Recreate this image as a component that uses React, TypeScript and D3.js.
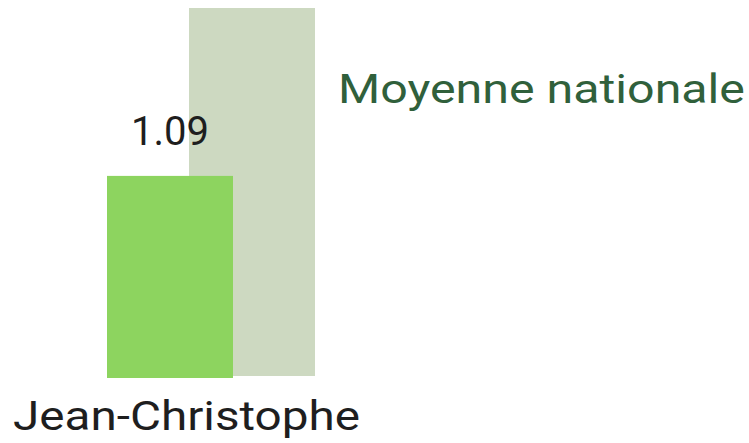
import { useEffect, useRef } from 'react'
import * as d3 from 'd3'

const categories = ['Jean-Christophe']
const personValues = [1.09]
const nationalValues = [2.0]
const nationalLabel = 'Moyenne nationale'

const width = 749
const height = 443
const baseline = 377
const font = 'Roboto, "Open Sans", sans-serif'

export default function App() {
  const ref = useRef<SVGSVGElement | null>(null)

  useEffect(() => {
    if (!ref.current) return
    const svg = d3.select(ref.current)
    svg.selectAll('*').remove()

    const y = d3.scaleLinear().domain([0, 2.0]).range([baseline, 8])

    const x = d3.scaleBand().domain(categories).range([107, 315]).padding(0)
    const barW = 126

    const g = svg.append('g')

    // national average bar (behind)
    g.selectAll('.nat')
      .data(nationalValues)
      .enter()
      .append('rect')
      .attr('class', 'nat')
      .attr('x', (_, i) => (x(categories[i]) ?? 0) + x.bandwidth() - barW)
      .attr('y', (d) => y(d))
      .attr('width', barW)
      .attr('height', (d) => baseline - 1 - y(d))
      .attr('fill', '#cdd9c1')

    // person bar
    g.selectAll('.person')
      .data(personValues)
      .enter()
      .append('rect')
      .attr('class', 'person')
      .attr('x', (_, i) => x(categories[i]) ?? 0)
      .attr('y', (d) => y(d))
      .attr('width', barW)
      .attr('height', (d) => baseline + 1 - y(d))
      .attr('fill', '#8dd45f')

    g.selectAll('.value')
      .data(personValues)
      .enter()
      .append('text')
      .attr('class', 'value')
      .attr('x', (_, i) => (x(categories[i]) ?? 0) + barW / 2)
      .attr('y', (d) => y(d) - 31)
      .attr('text-anchor', 'middle')
      .attr('font-family', font)
      .attr('font-size', 40)
      .attr('fill', '#1e1e1e')
      .attr('textLength', 78)
      .attr('lengthAdjust', 'spacingAndGlyphs')
      .text((d) => d.toFixed(2))

    g.append('text')
      .attr('x', 338)
      .attr('y', 103)
      .attr('font-family', font)
      .attr('font-size', 41)
      .attr('fill', '#30603b')
      .attr('textLength', 407)
      .attr('lengthAdjust', 'spacingAndGlyphs')
      .text(nationalLabel)

    g.selectAll('.cat')
      .data(categories)
      .enter()
      .append('text')
      .attr('class', 'cat')
      .attr('x', 13)
      .attr('y', 430)
      .attr('font-family', font)
      .attr('font-size', 41)
      .attr('fill', '#1e1e1e')
      .attr('textLength', 347)
      .attr('lengthAdjust', 'spacingAndGlyphs')
      .text((d) => d)
  }, [])

  return (
    <svg
      ref={ref}
      width={width}
      height={height}
      viewBox={`0 0 ${width} ${height}`}
      style={{ position: 'absolute', left: 0, top: 0, background: '#fff' }}
    />
  )
}
